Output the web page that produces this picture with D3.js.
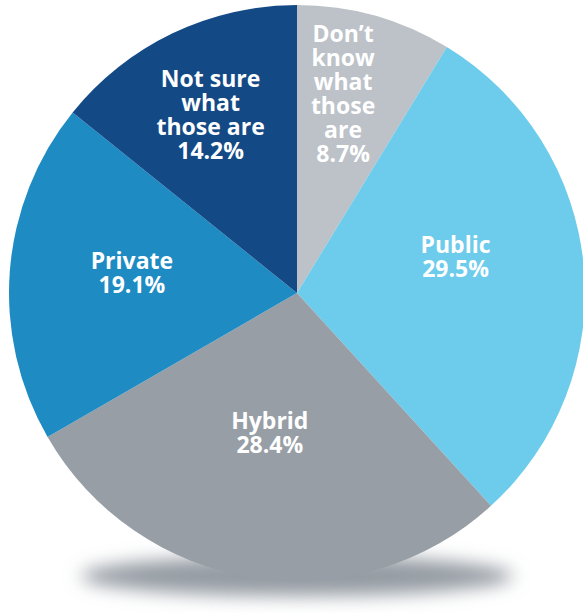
<!DOCTYPE html>
<html>
<head>
<meta charset="utf-8">
<script src="https://cdn.jsdelivr.net/npm/d3@7"></script>
<style>
  html, body { margin: 0; padding: 0; background: #ffffff; }
  svg { display: block; }
</style>
</head>
<body>
<svg id="chart" width="583" height="613"></svg>
<script>
// ---- data ----
const categories = ["Don\u2019t know what those are", "Public", "Hybrid", "Private", "Not sure what those are"];
const values = [8.7, 29.5, 28.4, 19.1, 14.2];
const labelLines = [
  ["Don\u2019t", "know", "what", "those", "are"],
  ["Public"],
  ["Hybrid"],
  ["Private"],
  ["Not sure", "what", "those are"]
];
const colors = ["#bcc2c8", "#6dcbeb", "#979ea6", "#1e8bc3", "#134a86"];

// ---- layout ----
const width = 583, height = 613;
const cx = 297, cy = 293, radius = 288;
const labelRadiusFrac = [0.682, 0.56, 0.525, 0.575, 0.6625];
const labelNudge = [[-7, -2], [-2, -13], [-4, -1], [0, 1], [-4, 2]];
const fontSize = 23, lineH = 24;

const svg = d3.select("#chart");

const defs = svg.append("defs");
const blur = defs.append("filter").attr("id", "shadowBlur")
  .attr("x", "-30%").attr("y", "-200%").attr("width", "160%").attr("height", "500%");
blur.append("feGaussianBlur").attr("stdDeviation", 9);

// shadow under the pie
svg.append("ellipse")
  .attr("cx", cx).attr("cy", cy + radius - 5)
  .attr("rx", radius * 0.75).attr("ry", 20)
  .attr("fill", "#949ba3")
  .attr("filter", "url(#shadowBlur)");

const pie = d3.pie().sort(null).value(d => d);
const arcs = pie(values);
const arc = d3.arc().innerRadius(0).outerRadius(radius);

const g = svg.append("g").attr("transform", `translate(${cx},${cy})`);

g.selectAll("path.slice")
  .data(arcs)
  .join("path")
  .attr("class", "slice")
  .attr("d", arc)
  .attr("fill", (d, i) => colors[i]);

arcs.forEach((d, i) => {
  const r = radius * labelRadiusFrac[i];
  const c = d3.arc().innerRadius(r).outerRadius(r).centroid(d);
  const lines = labelLines[i].concat([d3.format(".1f")(values[i]) + "%"]);
  const x = c[0] + labelNudge[i][0];
  const y = c[1] + labelNudge[i][1];
  const top = y - (lines.length - 1) * lineH / 2;
  const t = g.append("text")
    .attr("text-anchor", "middle")
    .attr("font-family", "'Open Sans', 'Noto Sans', sans-serif")
    .attr("font-weight", "bold")
    .attr("font-size", fontSize)
    .attr("fill", "#ffffff");
  lines.forEach((ln, j) => {
    t.append("tspan")
      .attr("x", x)
      .attr("y", top + j * lineH)
      .text(ln);
  });
});
</script>
</body>
</html>
